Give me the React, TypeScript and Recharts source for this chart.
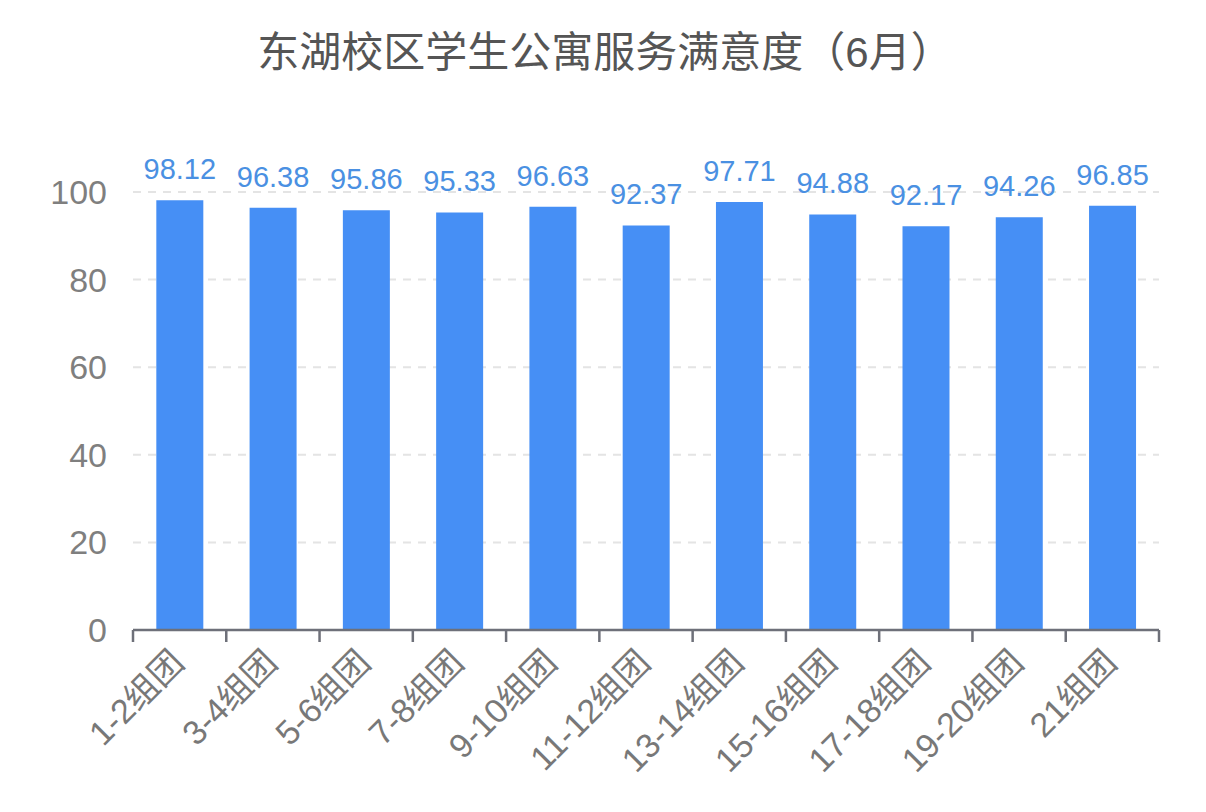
import { BarChart, Bar, XAxis, YAxis, CartesianGrid, LabelList } from "recharts";

const groups = [
  "1-2组团",
  "3-4组团",
  "5-6组团",
  "7-8组团",
  "9-10组团",
  "11-12组团",
  "13-14组团",
  "15-16组团",
  "17-18组团",
  "19-20组团",
  "21组团",
];
const scores = [98.12, 96.38, 95.86, 95.33, 96.63, 92.37, 97.71, 94.88, 92.17, 94.26, 96.85];
const yTicks = [0, 20, 40, 60, 80, 100];

const data = groups.map((name, i) => ({ name, score: scores[i] }));

const W = 1206;
const H = 812;
const MARGIN = { top: 192, right: 47, bottom: 0, left: 0 };
const Y_AXIS_W = 133;
const X_AXIS_H = 182;
const TICK_LEN = 12;
const TICK_GAP = 14;
const FONT = '"Liberation Sans", "Noto Sans CJK SC", sans-serif';

const BAND = (W - MARGIN.left - MARGIN.right - Y_AXIS_W) / groups.length;

function GroupTick(props: any) {
  const { x, y, payload, index } = props;
  const axisY = y - TICK_LEN - TICK_GAP;
  const left = x - BAND / 2;
  const right = x + BAND / 2;
  return (
    <g>
      <line x1={left} y1={axisY} x2={left} y2={axisY + TICK_LEN} stroke="#6e7079" strokeWidth={2.5} />
      {index === groups.length - 1 && (
        <line x1={right} y1={axisY} x2={right} y2={axisY + TICK_LEN} stroke="#6e7079" strokeWidth={2.5} />
      )}
      <text
        x={x - 2}
        y={y}
        dy="0.35em"
        textAnchor="end"
        transform={`rotate(-45, ${x - 2}, ${y})`}
        fill="#787878"
        fontSize={34}
        fontFamily={FONT}
      >
        {payload.value}
      </text>
    </g>
  );
}

export default function App() {
  return (
    <div style={{ position: "absolute", left: 0, top: 0, width: W, height: H, background: "#fff" }}>
      <div
        style={{
          position: "absolute",
          left: 0,
          top: 32,
          width: 1210,
          textAlign: "center",
          fontSize: 42,
          lineHeight: "42px",
          color: "#555555",
          fontFamily: FONT,
        }}
      >
        东湖校区学生公寓服务满意度（6月）
      </div>
      <BarChart width={W} height={H} data={data} margin={MARGIN} barCategoryGap="25%">
        <CartesianGrid vertical={false} stroke="#e4e4e4" strokeWidth={2} strokeDasharray="8 7" />
        <XAxis
          dataKey="name"
          height={X_AXIS_H}
          interval={0}
          axisLine={{ stroke: "#6e7079", strokeWidth: 2.5 }}
          tickLine={false}
          tickSize={TICK_LEN}
          tickMargin={TICK_GAP}
          tick={<GroupTick />}
        />
        <YAxis
          width={Y_AXIS_W}
          domain={[0, 100]}
          ticks={yTicks}
          axisLine={false}
          tickLine={false}
          tickSize={0}
          tickMargin={26}
          tick={{ fill: "#7f7f7f", fontSize: 34, fontFamily: FONT }}
        />
        <Bar dataKey="score" fill="#468ff5" isAnimationActive={false}>
          <LabelList
            dataKey="score"
            position="top"
            offset={21}
            fill="#4a90e2"
            fontSize={29}
            fontFamily={FONT}
          />
        </Bar>
      </BarChart>
    </div>
  );
}
